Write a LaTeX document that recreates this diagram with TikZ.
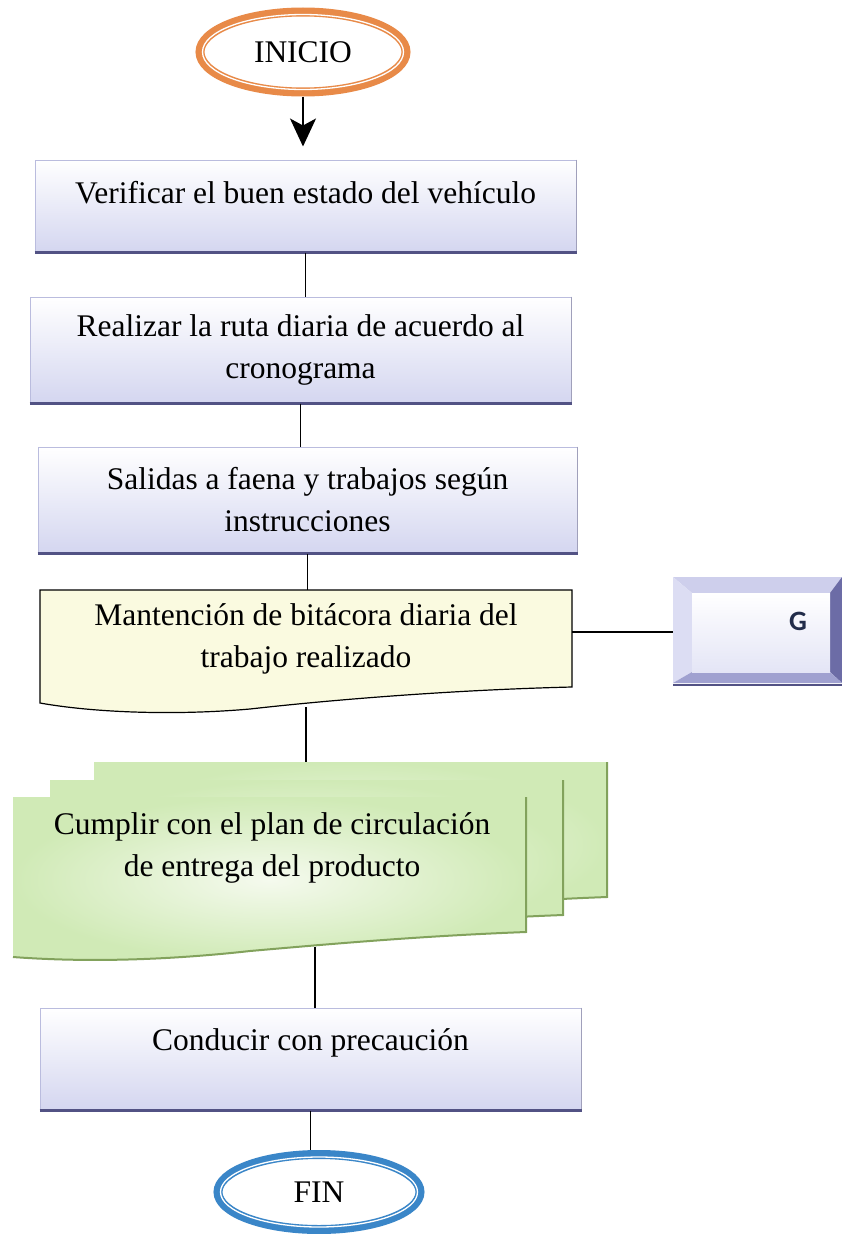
\documentclass[tikz,border=0pt]{standalone}
\usepackage{fontspec}
\setmainfont{Liberation Serif}
\newfontfamily\keyfont{Carlito}
\usepackage{tikz}
\usetikzlibrary{arrows.meta,positioning,shapes.geometric,calc}
\definecolor{iniorange}{RGB}{232,138,72}
\definecolor{finblue}{RGB}{58,134,200}
\definecolor{boxlav}{RGB}{212,214,240}
\definecolor{boxedge}{RGB}{186,188,222}
\definecolor{boxshade}{RGB}{82,82,132}
\definecolor{docyellow}{RGB}{250,250,224}
\definecolor{leafgreen}{RGB}{208,234,182}
\definecolor{palegreen}{RGB}{245,250,238}
\definecolor{greenshade}{RGB}{130,162,92}
\definecolor{keytop}{RGB}{206,207,236}
\definecolor{keyleft}{RGB}{220,221,243}
\definecolor{keyright}{RGB}{108,108,166}
\definecolor{keybottom}{RGB}{160,161,208}
\definecolor{keyface}{RGB}{228,229,246}
\definecolor{keynavy}{RGB}{34,44,74}

\begin{document}
\begin{tikzpicture}[x=1pt, y=-1pt, font=\fontsize{31.5}{42}\selectfont,
  terminal/.style={ellipse, fill=white, line width=9pt, inner sep=0pt},
  procbox/.style={rectangle, draw=boxedge, line width=1pt, top color=white,
    bottom color=boxlav, align=center, inner sep=0pt},
  link/.style={line width=1.6pt, black}]
  \useasboundingbox (0,0) rectangle (842,1234);

  % start and end
  \node[terminal, draw=iniorange, minimum width=206pt, minimum height=80pt] (inicio) at (303,52) {INICIO};
  \draw[white, line width=1.3pt] (inicio.center) ellipse [x radius=100.5pt, y radius=37.5pt];
  \node[terminal, draw=finblue, minimum width=202pt, minimum height=75pt] (fin) at (319,1192) {FIN};
  \draw[white, line width=1.3pt] (fin.center) ellipse [x radius=98.5pt, y radius=35pt];

  % process boxes
  \node[procbox, minimum width=541pt, minimum height=92pt, text height=22pt, text depth=27pt] (b1) at (305.5,206)
    {Verificar el buen estado del vehículo};
  \node[procbox, minimum width=541pt, minimum height=106pt] (b2) at (300.5,350)
    {Realizar la ruta diaria de acuerdo al\\cronograma};
  \node[procbox, minimum width=539pt, minimum height=106pt] (b3) at (307.5,500)
    {Salidas a faena y trabajos según\\instrucciones};
  \node[procbox, minimum width=541pt, minimum height=102pt, text height=22pt, text depth=39pt] (b4) at (310.5,1059)
    {Conducir con precaución};
  \foreach \n in {b1,b2,b3,b4} {
    \draw[boxshade!55, line width=1.2pt] (\n.north east) -- (\n.south east);
    \draw[boxshade, line width=2.5pt] (\n.south west) -- (\n.south east);
  }

  % document
  \draw[line width=1.2pt, fill=docyellow] (40,590) -- (572,590) -- (572,687)
    .. controls (450,690) and (330,700) .. (250,709)
    .. controls (170,716) and (90,712) .. (40,703) -- cycle;
  \node[align=center, inner sep=0pt, minimum width=532pt, minimum height=97pt] (doc) at (306,638.5)
    {Mantención de bitácora diaria del\\trabajo realizado};
  \coordinate (docb) at (306,707);

  % key G
  \fill[keytop] (673,577) -- (842,577) -- (830,593) -- (692,593) -- cycle;
  \fill[keyleft] (673,577) -- (692,593) -- (692,672) -- (673,683) -- cycle;
  \fill[keyright] (842,577) -- (842,683) -- (830,672) -- (830,593) -- cycle;
  \fill[keybottom] (673,683) -- (692,672) -- (830,672) -- (842,683) -- cycle;
  \shade[top color=white, bottom color=keyface] (692,593) rectangle (830,672);
  \draw[boxshade, line width=2.5pt] (673,685) -- (842,685);
  \node[minimum width=169pt, minimum height=110pt, inner sep=0pt] (gkey) at (757.5,632) {};
  \node[keynavy, font=\keyfont\bfseries\fontsize{28}{28}\selectfont] (gletter) at (798,621) {G};

  % multi-document
  \foreach \dx/\dy in {81/-35, 37/-17, 0/0} {
    \begin{scope}[shift={(\dx,\dy)}]
      \path[shading=radial, inner color=palegreen, outer color=leafgreen]
        (13,797) -- (526,797) -- (526,932)
        .. controls (420,936) and (330,944) .. (250,951)
        .. controls (160,961) and (80,962) .. (13,957) -- cycle;
      \draw[greenshade, line width=2pt] (526,797) -- (526,932)
        .. controls (420,936) and (330,944) .. (250,951)
        .. controls (160,961) and (80,962) .. (13,957);
    \end{scope}
  }
  \node[align=center, inner sep=0pt] (multi) at (272,848)
    {Cumplir con el plan de circulación\\de entrega del producto};
  \coordinate (multitop) at (306,762);
  \coordinate (multib) at (315,947);

  % connectors
  \draw[link, -{Stealth[length=28pt, width=26pt, inset=7pt]}, shorten >=13pt]
    (inicio.south) -- (inicio.south |- b1.north);
  \draw[link] (b1.south) -- (b1.south |- b2.north);
  \draw[link] (b2.south) -- (b2.south |- b3.north);
  \draw[link] (b3.south) -- (b3.south |- doc.north);
  \draw[link] (doc.east |- gkey.west) -- (gkey.west);
  \draw[link] (docb) -- (multitop);
  \draw[link] (multib) -- (multib |- b4.north);
  \draw[link] (b4.south) -- (b4.south |- fin.north);
\end{tikzpicture}
\end{document}
